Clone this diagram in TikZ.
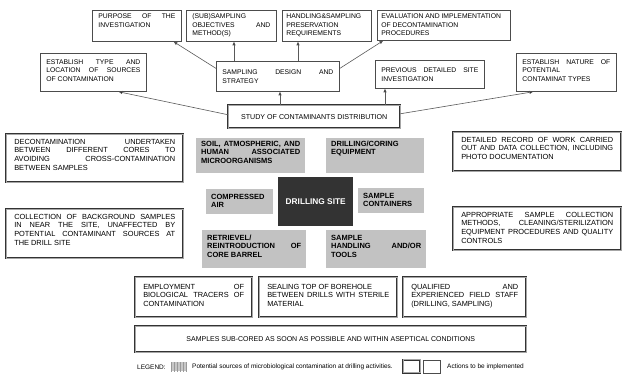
\documentclass[tikz,border=0pt]{standalone}
\usepackage{fontspec}
\setmainfont{Liberation Sans}
\usetikzlibrary{arrows.meta,patterns}
\tolerance=10000
\hbadness=10000
\hyphenpenalty=10000
\newcommand\topfont{\fontsize{6.8}{8.4}\selectfont}
\newcommand\boxfont{\fontsize{7.4}{8.6}\selectfont}
\newcommand\srcfont{\bfseries\fontsize{7.5}{8.6}\selectfont}
\newcommand\legfont{\fontsize{6.5}{7.5}\selectfont}
\tikzset{
  every node/.style={align=justify},
  act/.style={draw=black!70, line width=0.8pt, fill=white, anchor=north west,
    inner xsep=6pt, inner ysep=3.5pt, text height=5pt, font=\topfont},
  actw/.style={act, draw=black!80, line width=0.5pt, double=black!35,
    double distance=1.3pt, inner xsep=8pt, inner ysep=5pt, font=\boxfont},
  src/.style={fill=black!24, anchor=north west, inner xsep=5pt, inner ysep=5pt,
    text height=5pt, font=\srcfont},
  arr/.style={draw=black!65, line width=0.6pt, -{Triangle[length=3.5pt,width=3pt,fill=black]}},
  legtext/.style={anchor=west, inner sep=0pt, font=\legfont}
}
\begin{document}
\begin{tikzpicture}[x=1pt,y=-1pt]
\useasboundingbox (0,0) rectangle (622,385);
% actions at the top
\node[act, text width=77pt, text depth=19pt] (purpose) at (92,10) {PURPOSE OF THE\linebreak INVESTIGATION};
\node[act, text width=78pt, text depth=19pt] (subsamp) at (186,10) {(SUB)SAMPLING\linebreak OBJECTIVES AND\linebreak METHOD(S)};
\node[act, inner xsep=4pt, text width=81pt, text depth=19pt] (handling) at (282,10) {HANDLING\&SAMPLING\linebreak PRESERVATION\linebreak REQUIREMENTS};
\node[act, inner xsep=4pt, text width=125pt, text depth=18pt] (evaluation) at (377,10) {EVALUATION AND IMPLEMENTATION\newline OF DECONTAMINATION\newline PROCEDURES};
\node[act, text width=94pt, inner ysep=6pt, text depth=21pt] (esttype) at (40,53) {ESTABLISH TYPE AND\linebreak LOCATION OF SOURCES\linebreak OF CONTAMINATION};
\node[act, text width=111pt, minimum height=30pt] (design) at (216,61) {SAMPLING DESIGN AND\linebreak STRATEGY};
\node[act, text width=97pt, minimum height=28pt] (previous) at (375,60) {PREVIOUS DETAILED SITE\linebreak INVESTIGATION};
\node[act, text width=88pt, inner ysep=6pt, text depth=21pt] (estnature) at (516,53) {ESTABLISH NATURE OF\linebreak POTENTIAL\linebreak CONTAMINAT TYPES};
\node[actw, minimum width=172pt, minimum height=23pt, align=center, font=\fontsize{7.1}{8.4}\selectfont] (study) at (228,105) {STUDY OF CONTAMINANTS DISTRIBUTION};

\draw[arr] ([yshift=8pt]design.west) -- ([xshift=-8pt]purpose.south east);
\draw[arr] ([xshift=18pt]design.north west) -- ([xshift=18pt]design.north west |- subsamp.south);
\draw[arr] ([xshift=16pt]handling.south west |- design.north) -- ([xshift=16pt]handling.south west);
\draw[arr] ([yshift=8pt]design.east) -- ([xshift=6pt]evaluation.south west);
\draw[arr] ([xshift=52pt]study.north west) -- ([xshift=52pt]study.north west |- design.south);
\draw[arr] ([xshift=10pt]previous.south west |- study.north) -- ([xshift=10pt]previous.south west);
\draw[arr] ([yshift=2pt]study.west) -- ([xshift=-28pt]esttype.south east);
\draw[arr] ([yshift=3pt]study.east) -- ([xshift=17pt]estnature.south west);

% sources round the drilling site
\node[src, text width=99pt, inner ysep=3pt, text depth=24pt] (soil) at (196,138) {SOIL, ATMOSPHERIC, AND\linebreak HUMAN ASSOCIATED\linebreak MICROORGANISMS};
\node[src, text width=88pt, inner ysep=3pt, text depth=24pt] (coring) at (326,138) {DRILLING/CORING\linebreak EQUIPMENT};
\node[src, text width=57pt, text depth=10pt] (air) at (206,189) {COMPRESSED\linebreak AIR};
\node[src, fill=black!80, text=white, minimum width=75pt, minimum height=49pt, align=center,
  text height=6pt, font=\bfseries\fontsize{8.3}{9}\selectfont] (site) at (278,177) {DRILLING SITE};
\node[src, text width=56pt, text depth=10pt] (containers) at (358,188) {SAMPLE\linebreak CONTAINERS};
\node[src, text width=94pt, text depth=23pt] (barrel) at (202,230) {RETRIEVEL/\linebreak REINTRODUCTION OF\linebreak CORE BARREL};
\node[src, text width=90pt, text depth=23pt] (tools) at (326,230) {\leftskip=16pt SAMPLE\linebreak HANDLING AND/OR\linebreak TOOLS};

% actions at the sides
\node[actw, text width=161pt, text depth=33pt] (decon) at (6,134) {DECONTAMINATION UNDERTAKEN\linebreak BETWEEN DIFFERENT CORES TO\linebreak AVOIDING CROSS-CONTAMINATION\linebreak BETWEEN SAMPLES};
\node[actw, text width=161pt, text depth=34pt] (background) at (6,209) {COLLECTION OF BACKGROUND SAMPLES\linebreak IN NEAR THE SITE, UNAFFECTED BY\linebreak POTENTIAL CONTAMINANT SOURCES AT\linebreak THE DRILL SITE};
\node[actw, text width=152pt, text depth=24pt] (record) at (453,132) {DETAILED RECORD OF WORK CARRIED\linebreak OUT AND DATA COLLECTION, INCLUDING\linebreak PHOTO DOCUMENTATION};
\node[actw, text width=152pt, text depth=28pt] (methods) at (453,207) {APPROPRIATE SAMPLE COLLECTION\linebreak METHODS, CLEANING/STERILIZATION\linebreak EQUIPMENT PROCEDURES AND QUALITY\linebreak CONTROLS};

% actions at the bottom
\node[actw, text width=101pt, inner ysep=7pt, text depth=21pt] (tracers) at (135,277) {EMPLOYMENT OF\linebreak BIOLOGICAL TRACERS OF\linebreak CONTAMINATION};
\node[actw, text width=122pt, inner ysep=7pt, text depth=21pt] (sealing) at (259,277) {SEALING TOP OF BOREHOLE\newline BETWEEN DRILLS WITH STERILE\linebreak MATERIAL};
\node[actw, text width=107pt, inner ysep=7pt, text depth=21pt] (staff) at (403,277) {QUALIFIED AND\linebreak EXPERIENCED FIELD STAFF\linebreak (DRILLING, SAMPLING)};
\node[actw, minimum width=391pt, minimum height=26pt, align=center, font=\fontsize{7}{8.4}\selectfont] (subcored) at (135,326) {SAMPLES SUB-CORED AS SOON AS POSSIBLE AND WITHIN ASEPTICAL CONDITIONS};

% legend
\node[legtext] (legtitle) at (137,367) {LEGEND:};
\node[anchor=west, inner sep=0pt, minimum width=16pt, minimum height=9pt, fill=black!22,
  postaction={pattern=vertical lines, pattern color=black!40}] (legsrc) at (171,366.5) {};
\node[legtext] (legsrctext) at (192,367) {Potential sources of microbiological contamination at drilling activities.};
\node[actw, minimum width=17pt, minimum height=13pt, inner sep=0pt] (legact) at (403,359.5) {};
\node[act, minimum width=17pt, minimum height=13pt, inner sep=0pt] (legactb) at (423,359.5) {};
\node[legtext] (legacttext) at (447,367) {Actions to be implemented};
\end{tikzpicture}
\end{document}
